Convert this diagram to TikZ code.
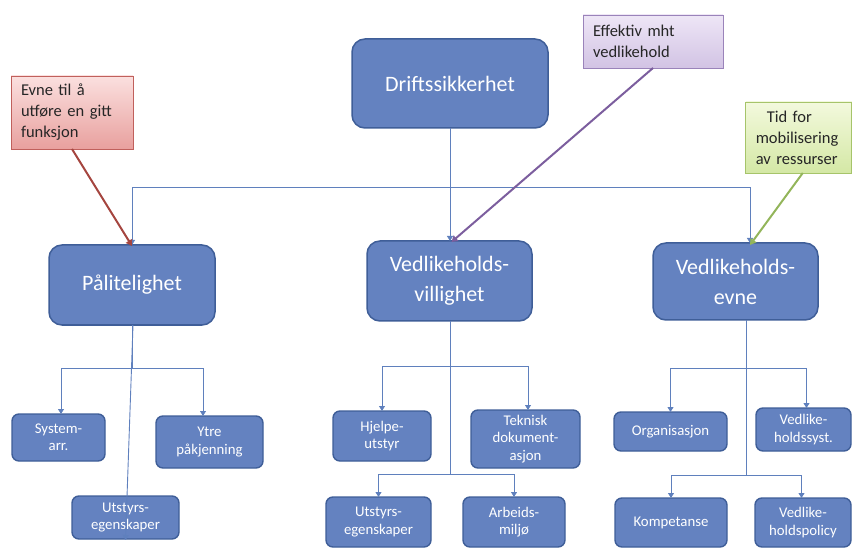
\documentclass[tikz,border=0pt]{standalone}
\usepackage{fontspec}
\setmainfont{Carlito}
\usetikzlibrary{arrows.meta}
\definecolor{boxfill}{HTML}{6482C0}
\definecolor{boxdraw}{HTML}{3F5E98}
\definecolor{conncol}{HTML}{5F80BD}
\definecolor{redtop}{HTML}{FBE0DF}
\definecolor{redbot}{HTML}{E8A09E}
\definecolor{reddraw}{HTML}{C0605C}
\definecolor{redarrow}{HTML}{A5453F}
\definecolor{purtop}{HTML}{EEE6F6}
\definecolor{purbot}{HTML}{D2C3E4}
\definecolor{purdraw}{HTML}{9A83BA}
\definecolor{purarrow}{HTML}{7C5E9E}
\definecolor{grntop}{HTML}{F3F9DD}
\definecolor{grnbot}{HTML}{D4E8A5}
\definecolor{grndraw}{HTML}{A6C46A}
\definecolor{grnarrow}{HTML}{93B55A}
\definecolor{txtdark}{HTML}{262626}
\newcommand\bx[7]{\node[#6, minimum width={(#4-#2)*1pt}, minimum height={(#5-#3)*1pt}] (#1) at ({(#2+#4)/2},{(#3+#5)/2}) {#7};}
\tikzset{
  bigbox/.style={draw=boxdraw, fill=boxfill, line width=1.5pt, rounded corners=13pt, text=white, inner sep=0pt, outer sep=0pt, align=center, font=\fontsize{22}{30}\selectfont},
  smallbox/.style={draw=boxdraw, fill=boxfill, line width=1.4pt, rounded corners=7pt, text=white, inner sep=0pt, outer sep=0pt, align=center, font=\fontsize{14.8}{17.5}\selectfont},
  callout/.style={line width=0.8pt, inner xsep=10pt, inner ysep=0pt, outer sep=0pt, align=left, text=txtdark, font=\fontsize{16.5}{21}\selectfont},
  conn/.style={draw=conncol, line width=0.9pt},
  tip/.style={-{Triangle[width=6pt,length=5pt]}},
  carrow/.style={line width=2pt, -{Triangle[width=7pt,length=6pt]}}
}
\begin{document}
\begin{tikzpicture}[x=1pt,y=-1pt]
\useasboundingbox (0,0) rectangle (852,548);
% main boxes
\bx{drift}{352}{39}{548}{128}{bigbox}{Driftssikkerhet}
\bx{pal}{49}{245}{215}{325}{bigbox}{Pålitelighet}
\bx{vill}{367}{241}{532}{321}{bigbox}{Vedlikeholds-\\villighet}
\bx{evne}{653}{243}{818}{320}{bigbox}{Vedlikeholds-\\evne}
% small boxes
\bx{sys}{12}{414}{105}{461}{smallbox}{System-\\arr.}
\bx{ytre}{156}{416}{263}{468}{smallbox}{Ytre\\påkjenning}
\bx{utsa}{72}{496}{179}{539}{smallbox}{Utstyrs-\\egenskaper}
\bx{hjelp}{333}{411}{431}{461}{smallbox}{Hjelpe-\\utstyr}
\bx{tek}{471}{410}{580}{468}{smallbox}{Teknisk\\dokument-\\asjon}
\bx{utsb}{326}{497}{431}{547}{smallbox}{Utstyrs-\\egenskaper}
\bx{arb}{463}{497}{565}{547}{smallbox}{Arbeids-\\miljø}
\bx{org}{614}{412}{727}{451}{smallbox}{Organisasjon}
\bx{vsys}{756}{408}{851}{451}{smallbox}{Vedlike-\\holdssyst.}
\bx{komp}{615}{498}{727}{547}{smallbox}{Kompetanse}
\bx{vpol}{755}{498}{851}{547}{smallbox}{Vedlike-\\holdspolicy}
% callouts
\bx{cred}{11}{76}{133}{149}{callout, draw=reddraw, top color=redtop, bottom color=redbot, text width=102pt}{Evne til å\\utføre en gitt\\funksjon}
\bx{cpur}{583}{15}{723}{68}{callout, draw=purdraw, top color=purtop, bottom color=purbot, text width=120pt}{Effektiv mht\\vedlikehold}
\bx{cgrn}{746}{102}{851.5}{173}{callout, draw=grndraw, top color=grntop, bottom color=grnbot, text width=86pt}{\hspace{11pt}Tid for\\mobilisering\\av ressurser}
% top-level connectors
\coordinate (hl) at (450,187);
\draw[conn,tip] (drift.south) -- (vill.north -| drift.south);
\draw[conn,tip] (hl) -| (pal.north);
\draw[conn,tip] (hl) -| ([xshift=14.5pt]evne.north);
% Paalitelighet children
\coordinate (pj) at (132,368);
\draw[conn] (pal.south) -- (pj);
\draw[conn,tip] (pj) -| ([xshift=2.5pt]sys.north);
\draw[conn,tip] (pj) -| ([xshift=-6.5pt]ytre.north);
\draw[conn,tip] ([xshift=1pt]pal.south) -- ([yshift=-1pt]utsa.south);
% Vedlikeholdsvillighet children
\coordinate (vj1) at (450,366);
\coordinate (vj2) at (450,474);
\draw[conn] (vill.south -| vj1) -- (vj2);
\draw[conn,tip] (vj1) -| (hjelp.north);
\draw[conn,tip] (vj1) -| ([xshift=2.5pt]tek.north);
\draw[conn,tip] (vj2) -| (utsb.north);
\draw[conn,tip] (vj2) -| (arb.north);
% Vedlikeholdsevne children
\coordinate (ej1) at (746,368);
\coordinate (ej2) at (746,475);
\draw[conn] (evne.south -| ej1) -- (ej2);
\draw[conn,tip] (ej1) -| (org.north);
\draw[conn,tip] (ej1) -| ([xshift=3pt]vsys.north);
\draw[conn,tip] (ej2) -| (komp.north);
\draw[conn,tip] (ej2) -| ([xshift=-1.5pt]vpol.north);
% callout arrows
\draw[carrow, redarrow] (cred.south) -- ([xshift=0pt,yshift=-1pt]pal.north);
\draw[carrow, purarrow] (cpur.south) -- ([xshift=2pt,yshift=-1pt]vill.north);
\draw[carrow, grnarrow] ([xshift=4pt]cgrn.south) -- ([xshift=14.5pt,yshift=-2pt]evne.north);
\end{tikzpicture}
\end{document}
